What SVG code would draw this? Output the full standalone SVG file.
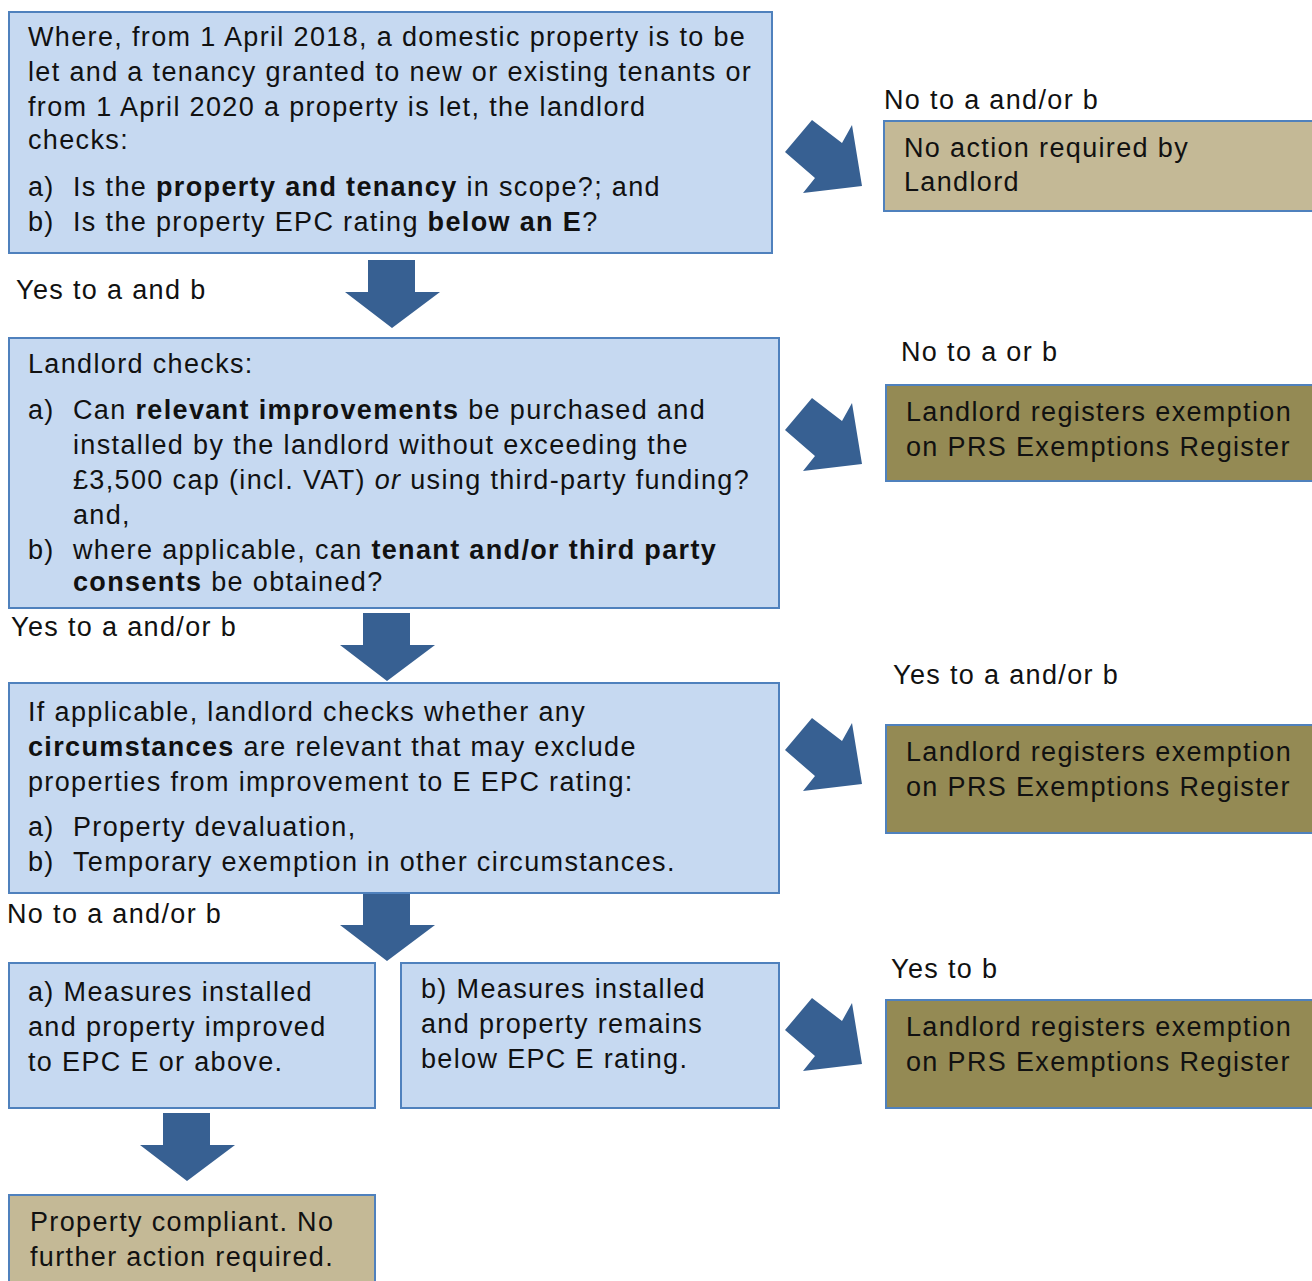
<svg xmlns="http://www.w3.org/2000/svg" width="1312" height="1281" viewBox="0 0 1312 1281">
<style>
text{font-family:"Liberation Sans",Arial,Helvetica,sans-serif;font-size:27px;letter-spacing:1.35px;fill:#111}
.b{font-weight:bold}
.i{font-style:italic}
.blue{fill:#c6d9f1;stroke:#4f81bd;stroke-width:2}
.tan{fill:#c4b996;stroke:#4f81bd;stroke-width:2}
.olive{fill:#948a54;stroke:#4f81bd;stroke-width:2}
.arr{fill:#376092}
</style>
<defs>
<path id="diag" d="M0,32 L27,0 L57,23 L67,5 L77,66 L18,73 L30,58 Z"/>
<path id="down" d="M23,0 L70,0 L70,32 L95,32 L47,68 L0,32 L23,32 Z"/>
</defs>
<rect width="1312" height="1281" fill="#fff"/>
<g id="connectors" class="arr">
<use href="#diag" x="785" y="120"/>
<use href="#diag" x="785" y="398"/>
<use href="#diag" x="785" y="718"/>
<use href="#diag" x="785" y="998"/>
<use href="#down" x="345" y="260"/>
<use href="#down" x="340" y="613"/>
<use href="#down" x="340" y="893"/>
<use href="#down" x="140" y="1113"/>
</g>
<g id="labels">
<text x="884" y="109">No to a and/or b</text>
<text x="16" y="299">Yes to a and b</text>
<text x="901" y="361">No to a or b</text>
<text x="11" y="636">Yes to a and/or b</text>
<text x="893" y="684">Yes to a and/or b</text>
<text x="7" y="923">No to a and/or b</text>
<text x="891" y="978">Yes to b</text>
</g>
<g id="node1">
<rect class="blue" x="9" y="12" width="763" height="241"/>
<text x="28" y="46">Where, from 1 April 2018, a domestic property is to be</text>
<text x="28" y="81">let and a tenancy granted to new or existing tenants or</text>
<text x="28" y="116">from 1 April 2020 a property is let, the landlord</text>
<text x="28" y="149">checks:</text>
<text x="28" y="196">a)</text>
<text x="73" y="196">Is the <tspan class="b">property and tenancy</tspan> in scope?; and</text>
<text x="28" y="231">b)</text>
<text x="73" y="231">Is the property EPC rating <tspan class="b">below an E</tspan>?</text>
</g>
<g id="node-noaction">
<rect class="tan" x="884" y="121" width="440" height="90"/>
<text x="904" y="157">No action required by</text>
<text x="904" y="191">Landlord</text>
</g>
<g id="node2">
<rect class="blue" x="9" y="338" width="770" height="270"/>
<text x="28" y="373">Landlord checks:</text>
<text x="28" y="419">a)</text>
<text x="73" y="419">Can <tspan class="b">relevant improvements</tspan> be purchased and</text>
<text x="73" y="454">installed by the landlord without exceeding the</text>
<text x="73" y="489">£3,500 cap (incl. VAT) <tspan class="i">or</tspan> using third-party funding?</text>
<text x="73" y="524">and,</text>
<text x="28" y="559">b)</text>
<text x="73" y="559">where applicable, can <tspan class="b">tenant and/or third party</tspan></text>
<text x="73" y="591"><tspan class="b">consents</tspan> be obtained?</text>
</g>
<g id="node-exempt1">
<rect class="olive" x="886" y="385" width="440" height="96"/>
<text x="906" y="421">Landlord registers exemption</text>
<text x="906" y="456">on PRS Exemptions Register</text>
</g>
<g id="node3">
<rect class="blue" x="9" y="683" width="770" height="210"/>
<text x="28" y="721">If applicable, landlord checks whether any</text>
<text x="28" y="756"><tspan class="b">circumstances</tspan> are relevant that may exclude</text>
<text x="28" y="791">properties from improvement to E EPC rating:</text>
<text x="28" y="836">a)</text>
<text x="73" y="836">Property devaluation,</text>
<text x="28" y="871">b)</text>
<text x="73" y="871">Temporary exemption in other circumstances.</text>
</g>
<g id="node-exempt2">
<rect class="olive" x="886" y="725" width="440" height="108"/>
<text x="906" y="761">Landlord registers exemption</text>
<text x="906" y="796">on PRS Exemptions Register</text>
</g>
<g id="node4a">
<rect class="blue" x="9" y="963" width="366" height="145"/>
<text x="28" y="1001">a) Measures installed</text>
<text x="28" y="1036">and property improved</text>
<text x="28" y="1071">to EPC E or above.</text>
</g>
<g id="node4b">
<rect class="blue" x="401" y="963" width="378" height="145"/>
<text x="421" y="998">b) Measures installed</text>
<text x="421" y="1033">and property remains</text>
<text x="421" y="1068">below EPC E rating.</text>
</g>
<g id="node-exempt3">
<rect class="olive" x="886" y="1000" width="440" height="108"/>
<text x="906" y="1036">Landlord registers exemption</text>
<text x="906" y="1071">on PRS Exemptions Register</text>
</g>
<g id="node-final">
<rect class="tan" x="9" y="1195" width="366" height="100"/>
<text x="30" y="1231">Property compliant. No</text>
<text x="30" y="1266">further action required.</text>
</g>
</svg>
